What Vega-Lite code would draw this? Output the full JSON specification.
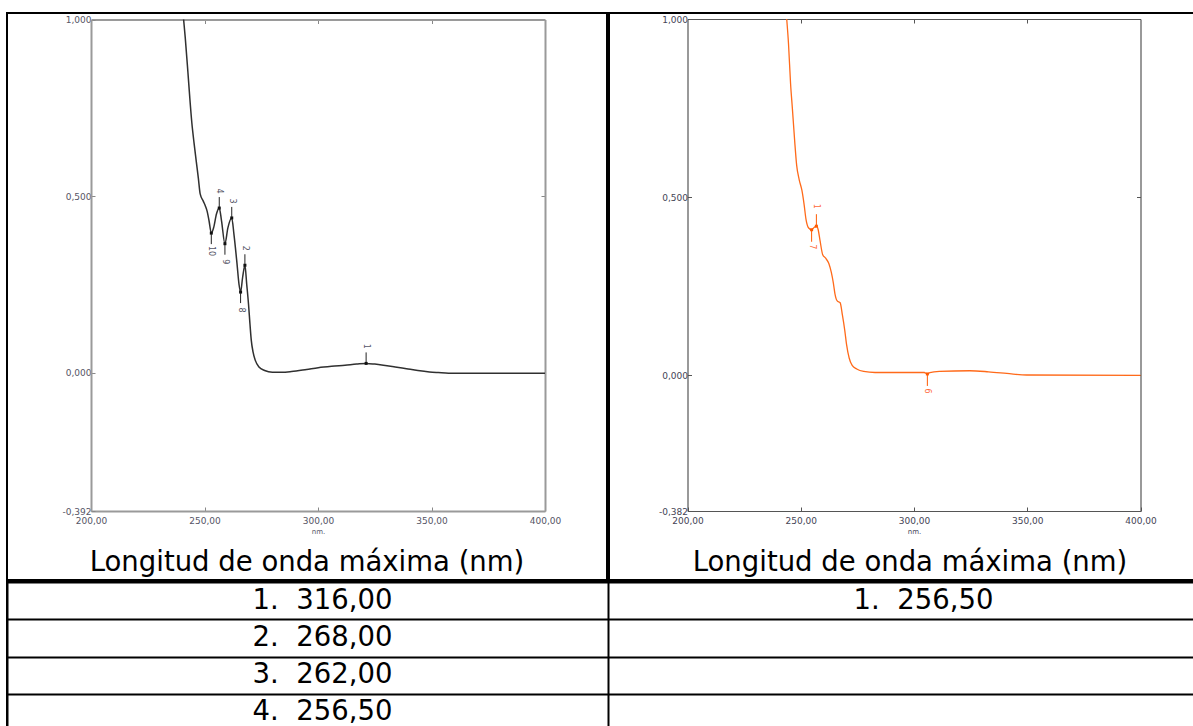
{
  "$schema": "https://vega.github.io/schema/vega-lite/v6.json",
  "padding": {"left": 6, "top": 12, "right": 0, "bottom": 0},
  "background": "white",
  "config": {"view": {"stroke": "black", "strokeWidth": 2}},
  "datasets": {
    "specL": [
      {"nm": 240.8, "a": 1.0}, {"nm": 241.5, "a": 0.95}, {"nm": 242.7, "a": 0.85}, {"nm": 243.5, "a": 0.78},
      {"nm": 244.4, "a": 0.709}, {"nm": 245.4, "a": 0.65}, {"nm": 246.4, "a": 0.597}, {"nm": 247.3, "a": 0.55},
      {"nm": 248.1, "a": 0.506}, {"nm": 249.5, "a": 0.485}, {"nm": 250.5, "a": 0.47}, {"nm": 251.2, "a": 0.456},
      {"nm": 252.0, "a": 0.43}, {"nm": 253.0, "a": 0.395}, {"nm": 254.0, "a": 0.41}, {"nm": 255.3, "a": 0.45},
      {"nm": 256.5, "a": 0.466}, {"nm": 257.5, "a": 0.43}, {"nm": 259.0, "a": 0.365}, {"nm": 260.3, "a": 0.41},
      {"nm": 262.0, "a": 0.438}, {"nm": 263.0, "a": 0.39}, {"nm": 264.3, "a": 0.31}, {"nm": 265.2, "a": 0.25},
      {"nm": 265.9, "a": 0.228}, {"nm": 266.8, "a": 0.27}, {"nm": 267.8, "a": 0.304}, {"nm": 268.6, "a": 0.25},
      {"nm": 269.4, "a": 0.193}, {"nm": 270.0, "a": 0.14}, {"nm": 270.6, "a": 0.092}, {"nm": 271.4, "a": 0.058},
      {"nm": 272.3, "a": 0.036}, {"nm": 274.0, "a": 0.016}, {"nm": 276.5, "a": 0.006}, {"nm": 279.9, "a": 0.001},
      {"nm": 284.0, "a": 0.001}, {"nm": 288.3, "a": 0.003}, {"nm": 295.0, "a": 0.009}, {"nm": 300.1, "a": 0.014},
      {"nm": 306.0, "a": 0.018}, {"nm": 311.9, "a": 0.021}, {"nm": 317.0, "a": 0.024}, {"nm": 321.2, "a": 0.026},
      {"nm": 325.0, "a": 0.024}, {"nm": 328.8, "a": 0.021}, {"nm": 334.0, "a": 0.016}, {"nm": 339.0, "a": 0.011},
      {"nm": 344.0, "a": 0.006}, {"nm": 349.1, "a": 0.002}, {"nm": 353.0, "a": 0.0}, {"nm": 357.5, "a": -0.002},
      {"nm": 370.0, "a": -0.002}, {"nm": 385.0, "a": -0.002}, {"nm": 400.0, "a": -0.002}
    ],
    "annL": [
      {"nm": 321.2, "a": 0.026, "lab": "1", "kind": "max"},
      {"nm": 267.8, "a": 0.304, "lab": "2", "kind": "max"},
      {"nm": 262.0, "a": 0.438, "lab": "3", "kind": "max"},
      {"nm": 256.5, "a": 0.466, "lab": "4", "kind": "max"},
      {"nm": 265.9, "a": 0.228, "lab": "8", "kind": "min"},
      {"nm": 259.0, "a": 0.365, "lab": "9", "kind": "min"},
      {"nm": 253.0, "a": 0.395, "lab": "10", "kind": "min"}
    ],
    "specR": [
      {"nm": 243.8, "a": 1.0}, {"nm": 244.6, "a": 0.93}, {"nm": 245.5, "a": 0.819}, {"nm": 246.3, "a": 0.749},
      {"nm": 247.3, "a": 0.659}, {"nm": 248.2, "a": 0.589}, {"nm": 249.3, "a": 0.549}, {"nm": 250.5, "a": 0.519},
      {"nm": 251.5, "a": 0.478}, {"nm": 252.3, "a": 0.438}, {"nm": 253.5, "a": 0.413}, {"nm": 254.8, "a": 0.408},
      {"nm": 256.0, "a": 0.415}, {"nm": 257.0, "a": 0.418}, {"nm": 257.7, "a": 0.408}, {"nm": 258.5, "a": 0.378},
      {"nm": 259.7, "a": 0.338}, {"nm": 261.0, "a": 0.328}, {"nm": 262.4, "a": 0.313}, {"nm": 263.5, "a": 0.288},
      {"nm": 264.4, "a": 0.258}, {"nm": 265.1, "a": 0.228}, {"nm": 266.1, "a": 0.208}, {"nm": 267.4, "a": 0.203},
      {"nm": 268.4, "a": 0.168}, {"nm": 269.4, "a": 0.127}, {"nm": 270.2, "a": 0.087}, {"nm": 271.4, "a": 0.047},
      {"nm": 272.7, "a": 0.027}, {"nm": 274.7, "a": 0.017}, {"nm": 277.8, "a": 0.01}, {"nm": 282.8, "a": 0.007},
      {"nm": 304.5, "a": 0.007}, {"nm": 305.9, "a": 0.003}, {"nm": 307.0, "a": 0.007}, {"nm": 311.2, "a": 0.01},
      {"nm": 324.6, "a": 0.012}, {"nm": 332.9, "a": 0.009}, {"nm": 343.0, "a": 0.003}, {"nm": 349.7, "a": 0.0},
      {"nm": 400.0, "a": -0.001}
    ],
    "annR": [
      {"nm": 256.9, "a": 0.418, "lab": "1", "kind": "max"},
      {"nm": 254.8, "a": 0.408, "lab": "7", "kind": "min"},
      {"nm": 305.9, "a": 0.003, "lab": "6", "kind": "min"}
    ],
    "table": [
      {"col": "L", "row": 1, "label": "1.\u00a0\u00a0316,00"},
      {"col": "L", "row": 2, "label": "2.\u00a0\u00a0268,00"},
      {"col": "L", "row": 3, "label": "3.\u00a0\u00a0262,00"},
      {"col": "L", "row": 4, "label": "4.\u00a0\u00a0256,50"},
      {"col": "R", "row": 1, "label": "1.\u00a0\u00a0256,50"}
    ]
  },
  "vconcat": [
    {
      "hconcat": [
        {
          "width": 600,
          "height": 567,
          "title": {"text": "Longitud de onda máxima (nm)", "orient": "bottom", "anchor": "middle", "offset": -9, "baseline": "alphabetic", "font": "DejaVu Sans", "fontSize": 27.5, "fontWeight": "normal", "color": "black"},
          "resolve": {"axis": {"x": "independent", "y": "independent"}},
          "layer": [
            {
              "data": {"name": "specL"},
              "mark": {"type": "line", "color": "#303030", "strokeWidth": 1.5, "interpolate": "monotone", "clip": true},
              "encoding": {
                "x": {"field": "nm", "type": "quantitative", "scale": {"domain": [200, 400], "range": [84, 538], "nice": false, "zero": false},
                  "axis": {"orient": "bottom", "offset": -69, "values": [200, 250, 300, 350, 400], "labelExpr": "replace(format(datum.value, '.2f'), '.', ',')", "labelFlush": false, "labelOverlap": false, "tickSize": -4, "tickColor": "#888", "domainColor": "#9a9a9a", "domainWidth": 2, "labelFont": "DejaVu Sans", "labelFontSize": 9, "labelColor": "#556", "labelPadding": 9, "title": "nm.", "titleFont": "DejaVu Sans", "titleFontSize": 7, "titleFontWeight": "normal", "titleColor": "#556", "titlePadding": 2, "grid": false}},
                "y": {"field": "a", "type": "quantitative", "scale": {"domain": [-0.392, 1], "range": [498, 6.5], "nice": false, "zero": false},
                  "axis": {"orient": "left", "offset": -84, "values": [-0.392, 0, 0.5, 1], "labelExpr": "replace(replace(format(datum.value, '.3f'), '.', ','), '\u2212', '-')", "labelFlush": false, "labelOverlap": false, "tickSize": -4, "tickColor": "#888", "domainColor": "#9a9a9a", "domainWidth": 2, "labelFont": "DejaVu Sans", "labelFontSize": 9, "labelColor": "#556", "labelPadding": 4, "title": null, "grid": false}}
              }
            },
            {
              "data": {"name": "annL"},
              "transform": [{"filter": "datum.kind === 'max'"}],
              "mark": {"type": "rule", "color": "#222", "strokeWidth": 1, "yOffset": -11, "y2Offset": -1},
              "encoding": {
                "x": {"field": "nm", "type": "quantitative", "scale": {"domain": [200, 400], "range": [84, 538], "nice": false, "zero": false},
                  "axis": {"orient": "top", "offset": -6.5, "values": [250, 300, 350], "labels": false, "tickSize": -4, "tickColor": "#888", "domainColor": "#9a9a9a", "domainWidth": 2, "title": null, "grid": false}},
                "y": {"field": "a", "type": "quantitative", "scale": {"domain": [-0.392, 1], "range": [498, 6.5], "nice": false, "zero": false},
                  "axis": {"orient": "right", "offset": -62, "values": [0, 0.5], "labels": false, "tickSize": -4, "tickColor": "#888", "domainColor": "#9a9a9a", "domainWidth": 2, "title": null, "grid": false}},
                "y2": {"field": "a"}
              }
            },
            {
              "data": {"name": "annL"},
              "transform": [{"filter": "datum.kind === 'min'"}],
              "mark": {"type": "rule", "color": "#222", "strokeWidth": 1, "yOffset": 1, "y2Offset": 11},
              "encoding": {
                "x": {"field": "nm", "type": "quantitative", "scale": {"domain": [200, 400], "range": [84, 538], "nice": false, "zero": false}, "axis": null},
                "y": {"field": "a", "type": "quantitative", "scale": {"domain": [-0.392, 1], "range": [498, 6.5], "nice": false, "zero": false}, "axis": null},
                "y2": {"field": "a"}
              }
            },
            {
              "data": {"name": "annL"},
              "mark": {"type": "square", "color": "#111", "size": 9, "opacity": 1},
              "encoding": {
                "x": {"field": "nm", "type": "quantitative", "scale": {"domain": [200, 400], "range": [84, 538], "nice": false, "zero": false}, "axis": null},
                "y": {"field": "a", "type": "quantitative", "scale": {"domain": [-0.392, 1], "range": [498, 6.5], "nice": false, "zero": false}, "axis": null}
              }
            },
            {
              "data": {"name": "annL"},
              "transform": [{"filter": "datum.kind === 'max'"}],
              "mark": {"type": "text", "angle": 90, "font": "DejaVu Sans", "fontSize": 8, "color": "#556", "yOffset": -17, "align": "center", "baseline": "middle"},
              "encoding": {
                "x": {"field": "nm", "type": "quantitative", "scale": {"domain": [200, 400], "range": [84, 538], "nice": false, "zero": false}, "axis": null},
                "y": {"field": "a", "type": "quantitative", "scale": {"domain": [-0.392, 1], "range": [498, 6.5], "nice": false, "zero": false}, "axis": null},
                "text": {"field": "lab"}
              }
            },
            {
              "data": {"name": "annL"},
              "transform": [{"filter": "datum.kind === 'min'"}],
              "mark": {"type": "text", "angle": 90, "font": "DejaVu Sans", "fontSize": 8, "color": "#556", "yOffset": 18, "align": "center", "baseline": "middle"},
              "encoding": {
                "x": {"field": "nm", "type": "quantitative", "scale": {"domain": [200, 400], "range": [84, 538], "nice": false, "zero": false}, "axis": null},
                "y": {"field": "a", "type": "quantitative", "scale": {"domain": [-0.392, 1], "range": [498, 6.5], "nice": false, "zero": false}, "axis": null},
                "text": {"field": "lab"}
              }
            }
          ]
        },
        {
          "width": 602,
          "height": 567,
          "title": {"text": "Longitud de onda máxima (nm)", "orient": "bottom", "anchor": "middle", "offset": -9, "baseline": "alphabetic", "font": "DejaVu Sans", "fontSize": 27.5, "fontWeight": "normal", "color": "black"},
          "resolve": {"axis": {"x": "independent", "y": "independent"}},
          "layer": [
            {
              "data": {"name": "specR"},
              "mark": {"type": "line", "color": "#ff6a1a", "strokeWidth": 1.3, "interpolate": "monotone", "clip": true},
              "encoding": {
                "x": {"field": "nm", "type": "quantitative", "scale": {"domain": [200, 400], "range": [78.5, 531.5], "nice": false, "zero": false},
                  "axis": {"orient": "bottom", "offset": -69, "values": [200, 250, 300, 350, 400], "labelExpr": "replace(format(datum.value, '.2f'), '.', ',')", "labelFlush": false, "labelOverlap": false, "tickSize": -4, "tickColor": "#555", "domainColor": "#555", "domainWidth": 1.2, "labelFont": "DejaVu Sans", "labelFontSize": 9, "labelColor": "#445", "labelPadding": 9, "title": "nm.", "titleFont": "DejaVu Sans", "titleFontSize": 7, "titleFontWeight": "normal", "titleColor": "#445", "titlePadding": 2, "grid": false}},
                "y": {"field": "a", "type": "quantitative", "scale": {"domain": [-0.382, 1], "range": [498, 6], "nice": false, "zero": false},
                  "axis": {"orient": "left", "offset": -78.5, "values": [-0.382, 0, 0.5, 1], "labelExpr": "replace(replace(format(datum.value, '.3f'), '.', ','), '\u2212', '-')", "labelFlush": false, "labelOverlap": false, "tickSize": -4, "tickColor": "#555", "domainColor": "#555", "domainWidth": 1.2, "labelFont": "DejaVu Sans", "labelFontSize": 9, "labelColor": "#445", "labelPadding": 4, "title": null, "grid": false}}
              }
            },
            {
              "data": {"name": "annR"},
              "transform": [{"filter": "datum.kind === 'max'"}],
              "mark": {"type": "rule", "color": "#ff5a00", "strokeWidth": 1, "yOffset": -12, "y2Offset": -1},
              "encoding": {
                "x": {"field": "nm", "type": "quantitative", "scale": {"domain": [200, 400], "range": [78.5, 531.5], "nice": false, "zero": false},
                  "axis": {"orient": "top", "offset": -6, "values": [250, 300, 350], "labels": false, "tickSize": -4, "tickColor": "#555", "domainColor": "#555", "domainWidth": 1.2, "title": null, "grid": false}},
                "y": {"field": "a", "type": "quantitative", "scale": {"domain": [-0.382, 1], "range": [498, 6], "nice": false, "zero": false},
                  "axis": {"orient": "right", "offset": -70.5, "values": [0, 0.5], "labels": false, "tickSize": -4, "tickColor": "#555", "domainColor": "#555", "domainWidth": 1.2, "title": null, "grid": false}},
                "y2": {"field": "a"}
              }
            },
            {
              "data": {"name": "annR"},
              "transform": [{"filter": "datum.kind === 'min'"}],
              "mark": {"type": "rule", "color": "#ff5a00", "strokeWidth": 1, "yOffset": 1, "y2Offset": 12},
              "encoding": {
                "x": {"field": "nm", "type": "quantitative", "scale": {"domain": [200, 400], "range": [78.5, 531.5], "nice": false, "zero": false}, "axis": null},
                "y": {"field": "a", "type": "quantitative", "scale": {"domain": [-0.382, 1], "range": [498, 6], "nice": false, "zero": false}, "axis": null},
                "y2": {"field": "a"}
              }
            },
            {
              "data": {"name": "annR"},
              "mark": {"type": "square", "color": "#ff5a00", "size": 9, "opacity": 1},
              "encoding": {
                "x": {"field": "nm", "type": "quantitative", "scale": {"domain": [200, 400], "range": [78.5, 531.5], "nice": false, "zero": false}, "axis": null},
                "y": {"field": "a", "type": "quantitative", "scale": {"domain": [-0.382, 1], "range": [498, 6], "nice": false, "zero": false}, "axis": null}
              }
            },
            {
              "data": {"name": "annR"},
              "transform": [{"filter": "datum.kind === 'max'"}],
              "mark": {"type": "text", "angle": 90, "font": "DejaVu Sans", "fontSize": 8, "color": "#ff6a3a", "yOffset": -20, "align": "center", "baseline": "middle"},
              "encoding": {
                "x": {"field": "nm", "type": "quantitative", "scale": {"domain": [200, 400], "range": [78.5, 531.5], "nice": false, "zero": false}, "axis": null},
                "y": {"field": "a", "type": "quantitative", "scale": {"domain": [-0.382, 1], "range": [498, 6], "nice": false, "zero": false}, "axis": null},
                "text": {"field": "lab"}
              }
            },
            {
              "data": {"name": "annR"},
              "transform": [{"filter": "datum.kind === 'min'"}],
              "mark": {"type": "text", "angle": 90, "font": "DejaVu Sans", "fontSize": 8, "color": "#ff6a3a", "yOffset": 17, "align": "center", "baseline": "middle"},
              "encoding": {
                "x": {"field": "nm", "type": "quantitative", "scale": {"domain": [200, 400], "range": [78.5, 531.5], "nice": false, "zero": false}, "axis": null},
                "y": {"field": "a", "type": "quantitative", "scale": {"domain": [-0.382, 1], "range": [498, 6], "nice": false, "zero": false}, "axis": null},
                "text": {"field": "lab"}
              }
            }
          ]
        }
      ],
      "spacing": 0
    },
    {
      "width": 1202,
      "height": 149,
      "data": {"name": "table"},
      "mark": {"type": "text", "font": "DejaVu Sans", "fontSize": 27.5, "color": "black", "dx": 15, "dy": 8, "baseline": "alphabetic", "align": "center"},
      "encoding": {
        "x": {"field": "col", "type": "nominal", "scale": {"domain": ["L", "R"], "paddingInner": 0, "paddingOuter": 0},
          "axis": {"tickBand": "extent", "grid": true, "gridColor": "black", "gridWidth": 2, "gridOpacity": 1, "labels": false, "ticks": false, "domain": false, "title": null}},
        "y": {"field": "row", "type": "ordinal", "scale": {"domain": [1, 2, 3, 4], "paddingInner": 0, "paddingOuter": 0},
          "axis": {"tickBand": "extent", "grid": true, "gridColor": "black", "gridWidth": 2, "gridOpacity": 1, "labels": false, "ticks": false, "domain": false, "title": null}},
        "text": {"field": "label"}
      }
    }
  ],
  "spacing": 0
}
